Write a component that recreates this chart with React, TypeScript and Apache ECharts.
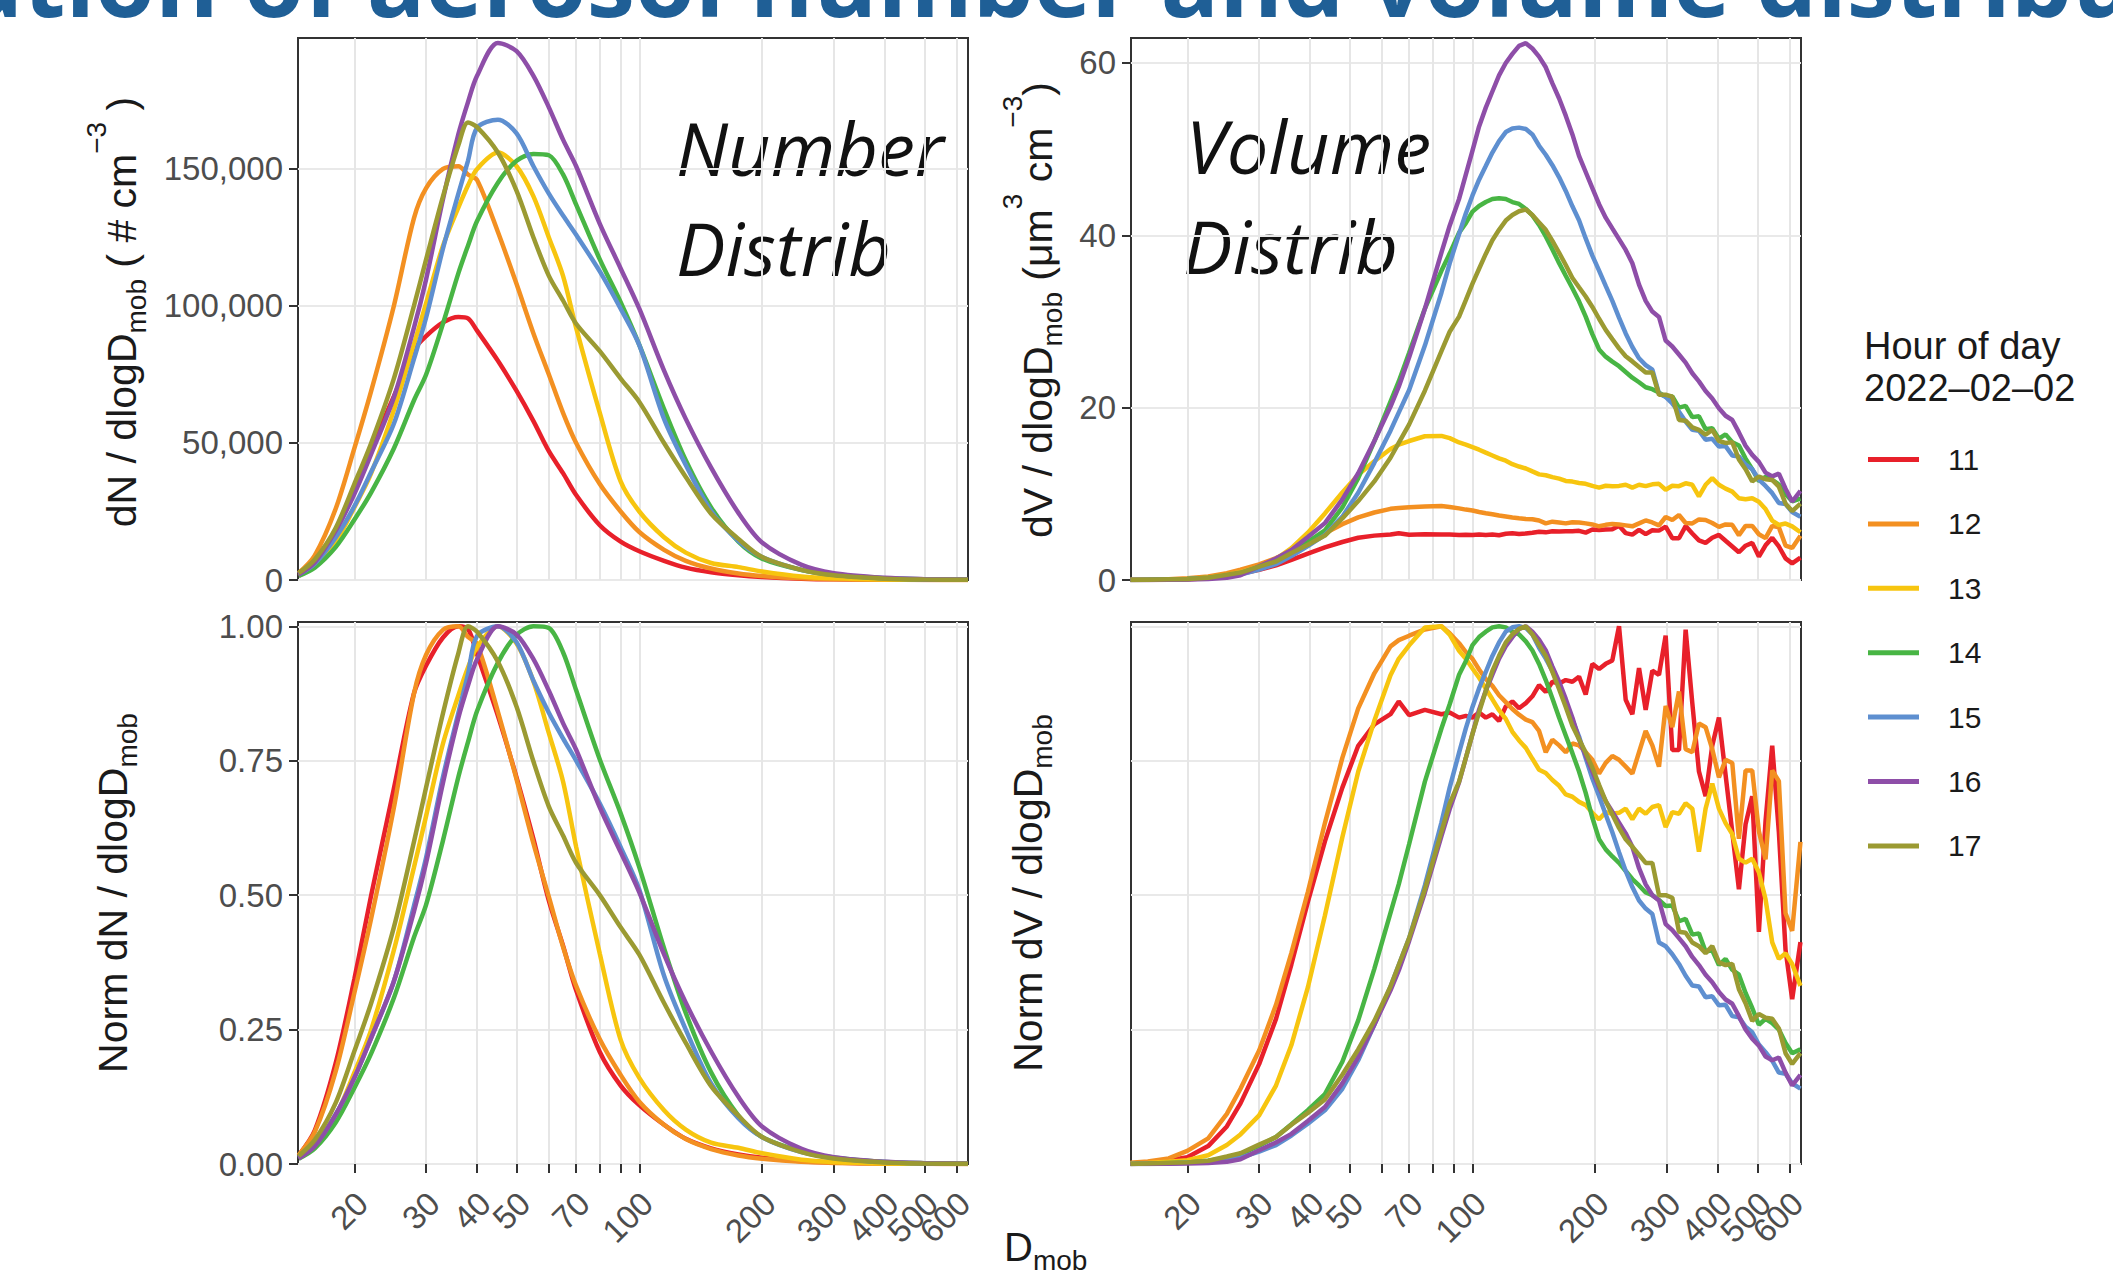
import { useEffect, useRef } from 'react';
import * as echarts from 'echarts';

// ---------- data ----------
const hours = ['11', '12', '13', '14', '15', '16', '17'];
const hourColors = ['#e8202a', '#f39021', '#f7c50f', '#48b544', '#5e8fd0', '#8e4ea8', '#9b9a32'];

// mobility diameter (nm) for the number distributions
const dNumber = [14.6, 16, 18, 20, 22, 25, 28, 30, 33, 36, 38, 40, 45, 50, 55, 60, 65, 70, 80, 90, 100, 115, 130, 150, 175, 200, 250, 300, 400, 500, 640];

// dN/dlogDmob (# cm-3)
const numH11 = [1500, 6000, 18000, 33000, 48000, 67000, 84000, 89000, 94000, 96000, 95500, 91000, 80000, 69000, 58000, 47000, 39000, 31000, 20000, 14000, 10500, 7000, 4500, 2800, 1700, 1100, 500, 250, 80, 30, 10];
const numH12 = [2500, 9000, 26000, 48000, 69000, 100000, 132000, 143000, 150000, 151000, 148000, 146000, 127000, 108000, 90000, 75000, 61000, 50000, 35000, 25000, 17500, 11000, 7000, 4200, 2400, 1500, 600, 300, 100, 40, 10];
const numH13 = [2000, 5500, 14000, 26500, 39000, 62000, 86000, 101000, 122000, 136000, 144000, 150000, 156000, 151000, 140000, 125000, 111000, 92000, 61000, 36000, 25000, 15600, 10000, 6200, 4700, 3100, 1250, 600, 160, 60, 20];
const numH14 = [1500, 4500, 12000, 22000, 32000, 48000, 65500, 75000, 93600, 112000, 122000, 131000, 145000, 153000, 155500, 155000, 148000, 137000, 117000, 101400, 85800, 62400, 43700, 26500, 14000, 7800, 3600, 1900, 600, 230, 80];
const numH15 = [2000, 6000, 15500, 26900, 39500, 57000, 80600, 95800, 121000, 141000, 153000, 165000, 168000, 163000, 151000, 141000, 133000, 126000, 112600, 99000, 85700, 58800, 42000, 25200, 14300, 8400, 3700, 1900, 600, 220, 70];
const numH16 = [2000, 6500, 18000, 31400, 46000, 66600, 92000, 109800, 139000, 162700, 174400, 184000, 196000, 193000, 184000, 172500, 160700, 151000, 130000, 113700, 99000, 76400, 58800, 41000, 24500, 13700, 5500, 2500, 800, 300, 100];
const numH17 = [2500, 7500, 19000, 35000, 50000, 73500, 100000, 117000, 140000, 158700, 167000, 165300, 156000, 142000, 125000, 111000, 102000, 93500, 83500, 73500, 65000, 50000, 37600, 24200, 15000, 8400, 3700, 1700, 500, 170, 70];

// mobility diameter (nm) for the volume distributions
const dVolume = [14.5, 16, 18, 20, 22.5, 25, 27, 30, 33, 36, 39.5, 43.5, 48, 52.5, 57.5, 63, 66, 70, 76.5, 84, 88,
  92.8, 96.4, 100.1, 103.9, 107.9, 112.0, 116.3, 120.8, 125.4, 130.2, 135.3, 140.4, 145.8, 151.4, 157.2, 163.3, 169.5, 176.0, 182.7, 189.7,
  197.0, 204.6, 212.4, 220.5, 229.0, 237.8, 246.9, 256.4, 266.2, 276.4, 287.0, 298.0, 309.4, 321.3, 333.6, 346.4, 359.6, 373.4, 387.7, 402.6,
  418.0, 434.1, 450.7, 468.0, 485.9, 504.5, 523.9, 544.0, 564.8, 586.5, 608.9, 638];

// dV/dlogDmob (um3 cm-3)
const volH11 = [0, 0.01, 0.04, 0.08, 0.21, 0.44, 0.71, 1.17, 1.70, 2.34, 3.07, 3.78, 4.41, 4.90, 5.15, 5.27, 5.42, 5.26, 5.32, 5.27, 5.29,
  5.23, 5.25, 5.23, 5.29, 5.23, 5.27, 5.19, 5.36, 5.42, 5.34, 5.40, 5.48, 5.61, 5.53, 5.65, 5.63, 5.67, 5.65, 5.71, 5.50,
  5.86, 5.80, 5.86, 5.90, 6.30, 5.44, 5.27, 5.81, 5.32, 5.78, 5.73, 6.19, 4.85, 4.85, 6.26, 5.40, 4.60, 4.31, 4.90, 5.23,
  4.56, 3.89, 3.22, 3.98, 4.31, 2.72, 4.02, 4.90, 3.89, 2.51, 1.93, 2.60];
const volH12 = [0.02, 0.04, 0.09, 0.21, 0.41, 0.80, 1.20, 1.81, 2.54, 3.37, 4.34, 5.44, 6.48, 7.27, 7.83, 8.26, 8.36, 8.43, 8.53, 8.58, 8.47,
  8.31, 8.17, 8.06, 7.89, 7.74, 7.63, 7.48, 7.37, 7.26, 7.17, 7.09, 7.05, 6.91, 6.57, 6.77, 6.68, 6.57, 6.71, 6.68, 6.57,
  6.45, 6.23, 6.40, 6.51, 6.45, 6.34, 6.23, 6.57, 6.91, 6.68, 6.34, 7.31, 6.97, 7.54, 6.62, 6.57, 7.03, 6.97, 6.62, 6.17,
  6.45, 6.40, 5.19, 6.28, 6.28, 5.31, 4.86, 6.28, 6.11, 4.00, 3.72, 5.14];
const volH13 = [0.02, 0.03, 0.07, 0.12, 0.27, 0.59, 0.92, 1.51, 2.44, 3.70, 5.49, 7.73, 10.16, 12.20, 13.78, 15.20, 15.71, 16.13, 16.68, 16.72, 16.46,
  15.96, 15.71, 15.41, 15.12, 14.78, 14.45, 14.11, 13.84, 13.44, 13.17, 12.94, 12.60, 12.26, 12.16, 11.94, 11.76, 11.49, 11.42, 11.26, 11.16,
  10.92, 10.72, 10.94, 10.89, 10.92, 11.05, 10.72, 11.05, 10.89, 11.10, 11.16, 10.48, 10.94, 10.89, 11.22, 11.05, 9.71, 11.05, 11.83, 11.05,
  10.60, 10.26, 9.49, 9.37, 9.49, 9.07, 8.23, 6.89, 6.38, 6.55, 6.22, 5.54];
const volH14 = [0, 0.04, 0.09, 0.13, 0.27, 0.49, 0.80, 1.51, 2.22, 3.28, 4.43, 5.76, 8.42, 11.83, 16.08, 20.69, 23.04, 26.36, 31.50, 35.88, 37.88,
  40.31, 41.42, 42.75, 43.41, 43.86, 44.21, 44.30, 44.21, 43.86, 43.64, 43.06, 42.31, 41.20, 39.87, 38.36, 36.77, 35.31, 33.85, 32.34, 30.57,
  28.53, 26.76, 25.92, 25.34, 24.81, 24.14, 23.48, 22.95, 22.37, 22.15, 21.75, 21.26, 21.30, 20.00, 20.20, 18.90, 19.00, 17.50, 17.60, 16.40,
  16.90, 16.00, 15.60, 14.09, 12.85, 11.47, 11.96, 11.61, 11.08, 9.97, 9.13, 9.44];
const volH15 = [0, 0, 0.05, 0.11, 0.21, 0.42, 0.63, 1.21, 1.84, 2.78, 3.94, 5.25, 7.35, 10.13, 13.60, 17.33, 19.43, 22.05, 27.20, 33.34, 36.75,
  40.16, 42.53, 44.63, 46.46, 48.04, 49.61, 50.93, 51.98, 52.40, 52.50, 52.34, 51.71, 50.40, 49.35, 48.14, 46.73, 45.15, 43.37, 41.74, 39.64,
  37.64, 35.91, 34.13, 32.39, 30.45, 28.61, 27.04, 25.73, 24.94, 24.41, 21.63, 21.26, 20.48, 19.53, 18.38, 17.43, 17.33, 16.28, 16.38, 15.49,
  15.54, 14.44, 14.33, 13.39, 12.86, 11.66, 10.92, 10.08, 8.93, 8.82, 7.88, 7.35];
const volH16 = [0, 0.01, 0.03, 0.06, 0.12, 0.25, 0.55, 1.60, 2.49, 3.49, 4.98, 6.60, 9.35, 12.40, 16.14, 20.12, 22.43, 25.85, 31.46, 38.00, 41.12,
  44.23, 47.04, 49.84, 52.64, 54.82, 56.69, 58.56, 60.00, 61.05, 61.99, 62.30, 61.68, 60.74, 59.50, 57.63, 55.88, 53.89, 51.71, 49.22, 47.35,
  45.48, 43.61, 42.05, 40.81, 39.56, 38.31, 36.76, 34.27, 32.40, 31.15, 30.53, 27.79, 27.10, 26.17, 25.23, 23.99, 23.05, 21.93, 21.06, 19.94,
  19.06, 18.57, 17.13, 15.58, 14.52, 13.71, 12.46, 12.02, 12.34, 10.59, 9.10, 10.34];
const volH17 = [0, 0.04, 0.09, 0.13, 0.26, 0.60, 0.86, 1.55, 2.15, 3.14, 4.09, 5.16, 7.14, 9.16, 11.44, 14.19, 15.91, 18.06, 21.97, 26.57, 28.81,
  30.57, 32.47, 34.40, 36.12, 37.84, 39.43, 40.64, 41.71, 42.36, 42.79, 43.00, 42.36, 41.50, 40.64, 39.35, 37.97, 36.55, 35.05, 33.97, 32.90,
  31.69, 30.32, 29.03, 27.95, 26.88, 25.97, 25.37, 24.73, 24.08, 24.08, 21.50, 21.50, 21.29, 18.58, 18.49, 17.72, 17.42, 16.86, 17.42, 16.13,
  15.91, 16.00, 13.98, 12.86, 11.44, 12.00, 11.70, 11.61, 10.84, 8.86, 8.00, 8.86];

// axis breaks
const xTickValues = [20, 30, 40, 50, 60, 70, 80, 90, 100, 200, 300, 400, 500, 600];
const xLabelValues = [20, 30, 40, 50, 70, 100, 200, 300, 400, 500, 600];
const numberTicks = [0, 50000, 100000, 150000];
const volumeTicks = [0, 20, 40, 60];
const normTicks = [0, 0.25, 0.5, 0.75, 1];

// ---------- helpers ----------
const FONT = "'Liberation Sans', Arial, Helvetica, sans-serif";
const D_MIN = 14.55;
const D_MAX = 640;

const toPairs = (ds: number[], vs: number[]) => ds.map((d, i) => [Math.log10(d), vs[i]]);
const normalise = (vs: number[]) => {
  const m = Math.max(...vs);
  return vs.map((v) => v / m);
};
const withCommas = (v: number) => String(Math.round(v)).replace(/\B(?=(\d{3})+(?!\d))/g, ',');
const labelSet = new Set(xLabelValues);

function makeX(gridIndex: number, bottom: boolean) {
  // the axis extremes are added as empty labels so that no real label is dropped as "overlapping"
  const labelPositions = [D_MIN, ...xLabelValues, D_MAX].map((v) => Math.log10(v));
  return {
    type: 'value',
    gridIndex,
    min: Math.log10(D_MIN),
    max: Math.log10(D_MAX),
    axisLine: { show: false },
    axisTick: {
      show: bottom,
      customValues: xTickValues.map((v) => Math.log10(v)),
      length: 9,
      lineStyle: { color: '#333333', width: 2 },
    },
    axisLabel: {
      show: bottom,
      customValues: labelPositions,
      formatter: (v: number) => {
        const d = Math.round(Math.pow(10, v));
        return labelSet.has(d) ? String(d) : '';
      },
      rotate: 45,
      align: 'right',
      verticalAlign: 'top',
      lineHeight: 22,
      margin: 26,
      fontSize: 33,
      color: '#4d4d4d',
      fontFamily: FONT,
      showMinLabel: true,
      showMaxLabel: true,
      hideOverlap: false,
    },
    splitLine: { show: true, lineStyle: { color: '#e6e6e6', width: 2 } },
  };
}

function makeY(gridIndex: number, max: number, ticks: number[], showLabels: boolean, fmt: (v: number) => string) {
  return {
    type: 'value',
    gridIndex,
    min: 0,
    max,
    axisLine: { show: false },
    axisTick: {
      show: showLabels,
      customValues: ticks,
      length: 9,
      lineStyle: { color: '#333333', width: 2 },
    },
    axisLabel: {
      show: showLabels,
      customValues: ticks,
      formatter: fmt,
      fontSize: 33,
      color: '#4d4d4d',
      fontFamily: FONT,
      margin: 15,
      showMinLabel: true,
      showMaxLabel: true,
    },
    splitLine: { show: true, lineStyle: { color: '#e9e9e9', width: 2 } },
  };
}

const titleRich = {
  m: { fontSize: 41, fontFamily: FONT, fill: '#1a1a1a', lineHeight: 80 },
  s: { fontSize: 28, fontFamily: FONT, fill: '#1a1a1a', verticalAlign: 'bottom', padding: [0, 0, 12, 0] },
  p: { fontSize: 28, fontFamily: FONT, fill: '#1a1a1a', verticalAlign: 'top' },
};

function axisTitle(x: number, y: number, text: string) {
  return {
    type: 'text',
    x,
    y,
    rotation: Math.PI / 2,
    silent: true,
    style: { text, rich: titleRich, align: 'center', verticalAlign: 'middle' },
  };
}

function annotation(x: number, y: number, text: string) {
  return {
    type: 'text',
    x,
    y,
    silent: true,
    style: {
      text,
      fontSize: 74,
      fontStyle: 'italic',
      fontFamily: "'Open Sans', 'Noto Sans', sans-serif",
      fill: '#111111',
      align: 'left',
      verticalAlign: 'middle',
    },
  };
}

export default function App() {
  const ref = useRef<HTMLDivElement>(null);

  useEffect(() => {
    document.body.style.margin = '0';
    const chart = echarts.init(ref.current as HTMLDivElement, null, { renderer: 'svg' });

    const numberSets = [numH11, numH12, numH13, numH14, numH15, numH16, numH17];
    const volumeSets = [volH11, volH12, volH13, volH14, volH15, volH16, volH17];

    const base = (k: number) => ({
      type: 'line',
      name: hours[k],
      symbol: 'none',
      showSymbol: false,
      silent: true,
      emphasis: { disabled: true },
      lineStyle: { color: hourColors[k], width: 4.5 },
      itemStyle: { color: hourColors[k] },
      clip: true,
    });

    const series: any[] = [];
    numberSets.forEach((vs, k) => series.push({ ...base(k), xAxisIndex: 0, yAxisIndex: 0, smooth: 0.3, data: toPairs(dNumber, vs) }));
    volumeSets.forEach((vs, k) => series.push({ ...base(k), xAxisIndex: 1, yAxisIndex: 1, smooth: false, data: toPairs(dVolume, vs) }));
    numberSets.forEach((vs, k) => series.push({ ...base(k), xAxisIndex: 2, yAxisIndex: 2, smooth: 0.3, data: toPairs(dNumber, normalise(vs)) }));
    volumeSets.forEach((vs, k) => series.push({ ...base(k), xAxisIndex: 3, yAxisIndex: 3, smooth: false, data: toPairs(dVolume, normalise(vs)) }));

    const gridBase = { show: true, borderColor: '#333333', borderWidth: 2, backgroundColor: '#ffffff', containLabel: false };

    const option = {
      animation: false,
      backgroundColor: '#ffffff',
      textStyle: { fontFamily: FONT },
      grid: [
        { ...gridBase, left: 298, top: 38, width: 670, height: 542 },
        { ...gridBase, left: 1131, top: 38, width: 670, height: 542 },
        { ...gridBase, left: 298, top: 622, width: 670, height: 542 },
        { ...gridBase, left: 1131, top: 622, width: 670, height: 542 },
      ],
      xAxis: [makeX(0, false), makeX(1, false), makeX(2, true), makeX(3, true)],
      yAxis: [
        makeY(0, 197800, numberTicks, true, withCommas),
        makeY(1, 62.9, volumeTicks, true, (v: number) => String(v)),
        makeY(2, 1.008, normTicks, true, (v: number) => v.toFixed(2)),
        makeY(3, 1.008, normTicks, false, (v: number) => v.toFixed(2)),
      ],
      legend: {
        data: hours,
        orient: 'vertical',
        left: 1863,
        top: 439.5,
        icon: 'rect',
        itemWidth: 51,
        itemHeight: 5,
        itemGap: 34.4,
        selectedMode: false,
        textStyle: { fontSize: 30, color: '#1a1a1a', fontFamily: FONT, padding: [0, 0, 0, 24] },
      },
      graphic: [
        {
          type: 'text',
          x: 1070,
          y: -21,
          silent: true,
          style: {
            text: 'Evolution of aerosol number and volume distributions',
            fontSize: 97,
            fontWeight: 'bold',
            fontFamily: "'Open Sans', 'Noto Sans', sans-serif",
            fill: '#1f5f96',
            align: 'center',
            verticalAlign: 'middle',
          },
        },
        annotation(676, 147, 'Number'),
        annotation(676, 247, 'Distrib'),
        annotation(1186, 145, 'Volume'),
        annotation(1183, 245, 'Distrib'),
        axisTitle(122, 312, '{m|dN / dlogD}{s|mob}{m| ( # cm}{p|−3}{m| )}'),
        axisTitle(1038, 310, '{m|dV / dlogD}{s|mob}{m| (μm}{p|3}{m| cm}{p|−3}{m|)}'),
        axisTitle(113, 893, '{m|Norm dN / dlogD}{s|mob}'),
        axisTitle(1028, 893, '{m|Norm dV / dlogD}{s|mob}'),
        {
          type: 'text',
          x: 1004,
          y: 1247,
          silent: true,
          style: {
            text: '{m|D}{s|mob}',
            rich: {
              m: { fontSize: 40, fontFamily: FONT, fill: '#1a1a1a', lineHeight: 54 },
              s: { fontSize: 28, fontFamily: FONT, fill: '#1a1a1a', verticalAlign: 'bottom' },
            },
            align: 'left',
            verticalAlign: 'middle',
          },
        },
        {
          type: 'text',
          x: 1864,
          y: 346,
          silent: true,
          style: { text: 'Hour of day', fontSize: 38, fontFamily: FONT, fill: '#1a1a1a', align: 'left', verticalAlign: 'middle' },
        },
        {
          type: 'text',
          x: 1864,
          y: 388,
          silent: true,
          style: { text: '2022–02–02', fontSize: 38, fontFamily: FONT, fill: '#1a1a1a', align: 'left', verticalAlign: 'middle' },
        },
      ],
      series,
    };

    chart.setOption(option as any);
    return () => chart.dispose();
  }, []);

  return <div ref={ref} style={{ width: 2113, height: 1280, overflow: 'hidden' }} />;
}
